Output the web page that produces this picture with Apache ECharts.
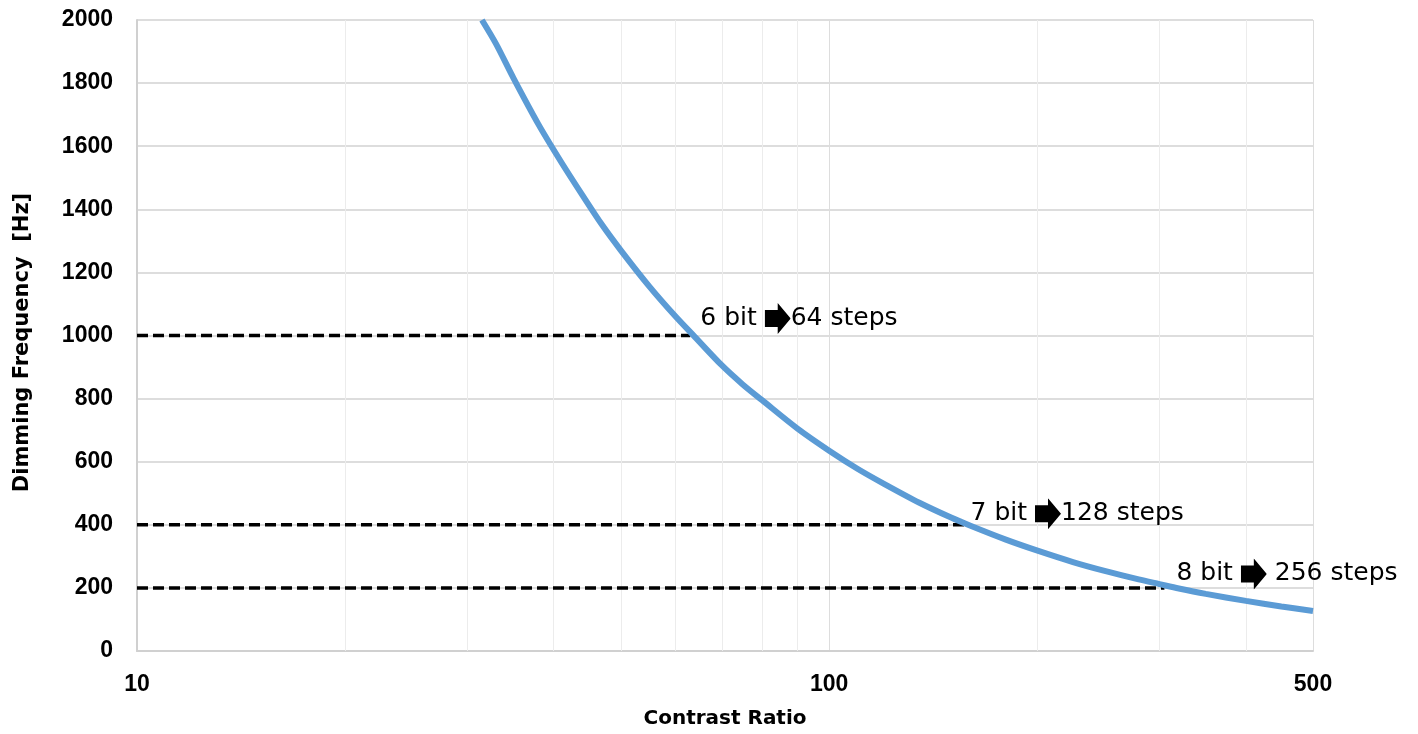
<!DOCTYPE html>
<html>
<head>
<meta charset="utf-8">
<script src="https://cdn.jsdelivr.net/npm/echarts@6/dist/echarts.min.js"></script>
<style>
  html, body { margin: 0; padding: 0; background: #fff; }
  #chart { width: 1418px; height: 734px; }
</style>
</head>
<body>
<div id="chart"></div>
<script>
// curve: contrast ratio vs dimming frequency
var contrast = [31.5, 33, 35, 38, 41, 44, 47, 50, 55, 60, 64, 70, 75, 80, 90, 100, 110, 120, 135, 150, 160, 180, 200, 225, 250, 280, 300, 320, 350, 400, 450, 500];
var freq = [2000, 1925, 1815, 1670, 1550, 1445, 1350, 1270, 1155, 1060, 995, 905, 845, 795, 705, 635, 577, 530, 470, 423, 397, 353, 318, 282, 254, 227, 212, 198, 181, 159, 141, 127];

// dashed guide lines: from x=10 to the curve
var guideLevels = [1000, 400, 200];
var guideEnds = [63, 159, 305];
var guideBits = ['6 bit', '7 bit', '8 bit'];
var guideSteps = ['64 steps', '128 steps', ' 256 steps'];

// faint log gridlines between the decades
var minorX = [20, 30, 40, 50, 60, 70, 80, 90, 200, 300, 400];

var curveData = [];
for (var i = 0; i < contrast.length; i++) {
	curveData.push([contrast[i], freq[i]]);
}

// label offsets for each guide (x, y) relative to where the dash ends
var labelOffsets = [[10, -17], [2, -11], [12, -14]];

// chunky black arrow used inside the labels
var arrowSvg = 'data:image/svg+xml;charset=utf-8,' + encodeURIComponent(
	'<svg xmlns="http://www.w3.org/2000/svg" width="26" height="31" viewBox="0 0 26 31">' +
	'<path d="M0 7 L13 7 L13 0 L26 15.5 L13 31 L13 24 L0 24 Z" fill="#000"/></svg>');

var series = [];
series.push({
	type: 'line',
	name: 'minor',
	data: [],
	silent: true,
	z: 1,
	markLine: {
		z: 1,
		silent: true,
		animation: false,
		symbol: ['none', 'none'],
		label: {show: false},
		emphasis: {disabled: true},
		lineStyle: {color: '#ececec', width: 1, type: 'solid'},
		data: minorX.map(function (v) { return {xAxis: v}; })
	}
});
for (var g = 0; g < guideLevels.length; g++) {
	series.push({
		type: 'line',
		name: guideBits[g],
		z: 3,
		showSymbol: false,
		symbol: 'none',
		lineStyle: {color: '#000', width: 3.5, type: [11, 5]},
		data: [[10, guideLevels[g]], [guideEnds[g], guideLevels[g]]],
		markPoint: {
			z: 6,
			symbol: 'circle',
			symbolSize: 0,
			silent: true,
			data: [{
				coord: [guideEnds[g], guideLevels[g]],
				label: {
					show: true,
					position: 'right',
					distance: 0,
					offset: labelOffsets[g],
					formatter: guideBits[g] + ' {a|}' + guideSteps[g],
					fontFamily: 'DejaVu Sans',
					fontSize: 25,
					color: '#000',
					rich: {
						a: {width: 26, height: 31, backgroundColor: {image: arrowSvg}}
					}
				}
			}]
		}
	});
}
series.push({
	type: 'line',
	name: 'curve',
	z: 4,
	smooth: 0.3,
	showSymbol: false,
	lineStyle: {color: '#5b9bd5', width: 6},
	data: curveData
});

var chart = echarts.init(document.getElementById('chart'));
var option = {
	animation: false,
	grid: {left: 137, right: 105, top: 20, bottom: 82},
	xAxis: {
		type: 'log',
		logBase: 10,
		min: 10,
		max: 500,
		name: 'Contrast Ratio',
		nameLocation: 'middle',
		nameGap: 58,
		nameTextStyle: {fontFamily: 'DejaVu Sans', fontWeight: 'bold', fontSize: 20, color: '#000'},
		axisLine: {lineStyle: {color: '#d0d0d0', width: 2}},
		axisTick: {show: false},
		axisLabel: {
			margin: 22,
			fontFamily: 'Liberation Sans',
			fontWeight: 'bold',
			fontSize: 23,
			color: '#000'
		},
		splitLine: {show: true, lineStyle: {color: '#dddddd', width: 1}}
	},
	yAxis: {
		type: 'value',
		min: 0,
		max: 2000,
		interval: 200,
		name: 'Dimming Frequency  [Hz]',
		nameLocation: 'middle',
		nameGap: 104,
		nameTextStyle: {fontFamily: 'DejaVu Sans', fontWeight: 'bold', fontSize: 21, color: '#000', padding: [0, 0, 0, -14]},
		axisLine: {show: true, lineStyle: {color: '#d0d0d0', width: 2}},
		axisTick: {show: false},
		axisLabel: {
			margin: 24,
			fontFamily: 'Liberation Sans',
			fontWeight: 'bold',
			fontSize: 23,
			color: '#000',
			formatter: function (v) { return String(v); }
		},
		splitLine: {show: true, lineStyle: {color: '#dddddd', width: 2}}
	},
	series: series
};
chart.setOption(option);
</script>
</body>
</html>
